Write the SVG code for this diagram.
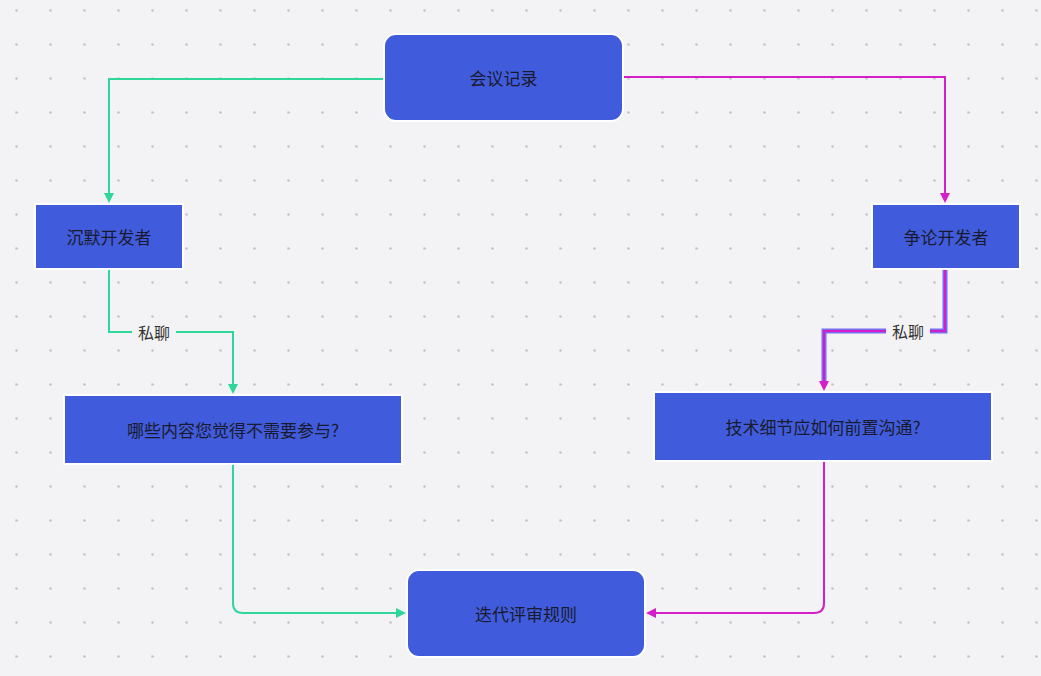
<svg xmlns="http://www.w3.org/2000/svg" width="1041" height="676" viewBox="0 0 1041 676">
<defs>
<pattern id="dots" x="16" y="10" width="34" height="34" patternUnits="userSpaceOnUse"><circle cx="0.5" cy="0.5" r="1.3" fill="#c4c4c8"/><circle cx="34.5" cy="0.5" r="1.3" fill="#c4c4c8"/><circle cx="0.5" cy="34.5" r="1.3" fill="#c4c4c8"/><circle cx="34.5" cy="34.5" r="1.3" fill="#c4c4c8"/></pattern>
<marker id="ag" markerWidth="10" markerHeight="10" refX="8" refY="5" orient="auto" markerUnits="userSpaceOnUse"><path d="M0,0 L10,5 L0,10 Z" fill="#2ed69a"/></marker>
<marker id="am" markerWidth="10" markerHeight="10" refX="8" refY="5" orient="auto" markerUnits="userSpaceOnUse"><path d="M0,0 L10,5 L0,10 Z" fill="#d41fc8"/></marker>
</defs>
<style>
.n{fill:#405cdc;stroke:#fff;stroke-width:2}
.t{font-family:"Noto Sans CJK SC","Noto Sans",sans-serif;font-size:17px;fill:#1a1a2e;text-anchor:middle;dominant-baseline:central}
.l{font-family:"Noto Sans CJK SC","Noto Sans",sans-serif;font-size:16px;fill:#333;text-anchor:middle;dominant-baseline:central}
.g{fill:none;stroke:#2ed69a;stroke-width:2}
.m{fill:none;stroke:#d41fc8;stroke-width:2}
.mb{fill:none;stroke:#7a6cf0;stroke-width:5}
</style>
<rect width="1041" height="676" fill="#f3f3f6"/>
<rect width="1041" height="676" fill="url(#dots)"/>
<g id="connectors">
<path class="g" d="M384,79 H109 V201" marker-end="url(#ag)"/>
<path class="m" d="M623,77 H945 V201" marker-end="url(#am)"/>
<path class="g" d="M109,269 V332 H233 V392" marker-end="url(#ag)"/>
<path class="mb" d="M945,269 V331 H824 V382"/>
<path class="m" d="M945,269 V331 H824 V389" marker-end="url(#am)"/>
<path class="g" d="M233,464 V603 Q233,613 243,613 H404" marker-end="url(#ag)"/>
<path class="m" d="M824,461 V603 Q824,613 814,613 H648" marker-end="url(#am)"/>
<rect x="132" y="321" width="44" height="22" fill="#f3f3f6"/>
<text class="l" x="154" y="332">私聊</text>
<rect x="886" y="320" width="44" height="22" fill="#f3f3f6"/>
<text class="l" x="908" y="331">私聊</text>
</g>
<g id="n1"><rect class="n" x="384" y="34" width="239" height="87" rx="12"/><text class="t" x="503.5" y="77">会议记录</text></g>
<g id="n2"><rect class="n" x="35" y="204" width="148" height="65"/><text class="t" x="109" y="236.5">沉默开发者</text></g>
<g id="n3"><rect class="n" x="872" y="204" width="148" height="65"/><text class="t" x="946" y="236.5">争论开发者</text></g>
<g id="n4"><rect class="n" x="64" y="395" width="338" height="69"/><text class="t" x="233" y="429.5">哪些内容您觉得不需要参与?</text></g>
<g id="n5"><rect class="n" x="654" y="392" width="338" height="69"/><text class="t" x="823" y="426.5">技术细节应如何前置沟通?</text></g>
<g id="n6"><rect class="n" x="407" y="570" width="238" height="87" rx="12"/><text class="t" x="526" y="613">迭代评审规则</text></g>
</svg>
